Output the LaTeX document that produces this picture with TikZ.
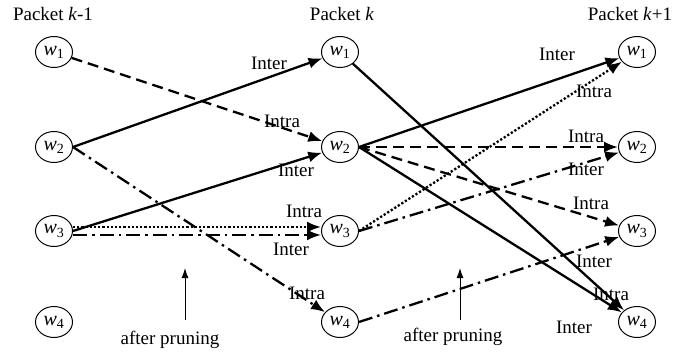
\documentclass[tikz,border=0pt]{standalone}
\usepackage{fontspec}
\setmainfont{Liberation Serif}
\usetikzlibrary{shapes.geometric,arrows.meta}

\tikzstyle{word}=[draw,ellipse,minimum width=37pt,minimum height=31pt,inner sep=0pt,line width=1pt,font=\fontsize{20}{20}\selectfont]
\tikzstyle{lbl}=[inner sep=0pt,font=\fontsize{19}{19}\selectfont]
\tikzstyle{link}=[line width=2.3pt,-{Latex[length=14pt,width=11pt]}]
\tikzstyle{dashlink}=[link,dash pattern=on 11pt off 6pt]
\tikzstyle{dotlink}=[link,dash pattern=on 2.2pt off 2pt]
\tikzstyle{dashdotlink}=[link,dash pattern=on 14pt off 5pt on 2.5pt off 5pt]
\tikzstyle{prune}=[line width=1pt,-{Latex[length=10pt,width=7pt]}]

\newcommand{\wsym}[1]{\textit{w}\textsubscript{#1}}

\begin{document}
\begin{tikzpicture}[x=1pt,y=-1pt]
  \useasboundingbox (0,0) rectangle (700,358);

  \node (h1)[lbl] at (53,14) {Packet \textit{k}-1};
  \node (h2)[lbl] at (342,14) {Packet \textit{k}};
  \node (h3)[lbl] at (630,14) {Packet \textit{k}+1};

  \node (a1)[word] at (54,52) {\wsym{1}};
  \node (a2)[word] at (54,147) {\wsym{2}};
  \node (a3)[word] at (54,231) {\wsym{3}};
  \node (a4)[word] at (54,322) {\wsym{4}};
  \node (b1)[word] at (340,52) {\wsym{1}};
  \node (b2)[word] at (340,147) {\wsym{2}};
  \node (b3)[word] at (340,231) {\wsym{3}};
  \node (b4)[word] at (340,322) {\wsym{4}};
  \node (c1)[word] at (637,52) {\wsym{1}};
  \node (c2)[word] at (637,147) {\wsym{2}};
  \node (c3)[word] at (637,231) {\wsym{3}};
  \node (c4)[word] at (637,322) {\wsym{4}};

    % packet k-1 -> packet k
    \draw[dashlink] (a1) -- (b2);
    \draw[link] (a2.east) -- (b1);
    \draw[dashdotlink] (a2.east) -- (b4);
    \draw[link] (a3.east) -- (b2);
    \draw[dotlink] ([yshift=4pt]a3.east) -- ([yshift=4pt]b3.west);
    \draw[dashdotlink] ([yshift=-4pt]a3.east) -- ([yshift=-4pt]b3.west);

    % packet k -> packet k+1
    \draw[link] (b1) -- (c4);
    \foreach \j/\s in {1/link, 2/dashlink, 3/dashlink, 4/link}{
        \draw[\s] (b2.east) -- (c\j);
    }
    \draw[dotlink] (b3.east) -- (c1);
    \draw[dashdotlink] (b3.east) -- (c2);
    \draw[dashdotlink] (b4.east) -- (c3);

  \node (l1)[lbl] at (269,63) {Inter};
  \node (l2)[lbl] at (282,121) {Intra};
  \node (l3)[lbl] at (296,170) {Inter};
  \node (l4)[lbl] at (304,211) {Intra};
  \node (l5)[lbl] at (291,249) {Inter};
  \node (l6)[lbl] at (307,293) {Intra};
  \node (l7)[lbl] at (557,54) {Inter};
  \node (l8)[lbl] at (594,91) {Intra};
  \node (l9)[lbl] at (586,136) {Intra};
  \node (l10)[lbl] at (586,169) {Inter};
  \node (l11)[lbl] at (591,203) {Intra};
  \node (l12)[lbl] at (594,261) {Inter};
  \node (l13)[lbl] at (611,294) {Intra};
  \node (l14)[lbl] at (574,327) {Inter};

  \coordinate (s1) at (185,320);
  \coordinate (e1) at (185,268);
  \coordinate (s2) at (460,320);
  \coordinate (e2) at (460,268);
  \draw[prune] (s1) -- (e1);
  \draw[prune] (s2) -- (e2);
  \node (p1)[lbl] at (170,340) {after pruning};
  \node (p2)[lbl] at (453,337) {after pruning};
\end{tikzpicture}
\end{document}
